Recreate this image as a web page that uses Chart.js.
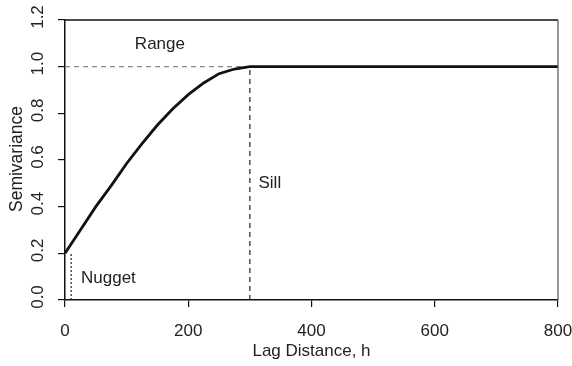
<!DOCTYPE html>
<html><head><meta charset="utf-8">
<script src="https://cdn.jsdelivr.net/npm/chart.js@4.4.0/dist/chart.umd.min.js"></script>
<style>html,body{margin:0;padding:0;background:#fff}#wrap{width:572px;height:366px}</style>
</head><body><div id="wrap"><canvas id="c" width="572" height="366"></canvas></div>
<script>
const lagDistance = [0,25,50,75,100,125,150,175,200,225,250,275,300,800];
const semivariance = [0.2,0.30,0.40,0.49,0.585,0.67,0.75,0.82,0.88,0.93,0.97,0.99,1.0,1.0];
const sillLineX = [0,300]; const sillLineY = [1.0,1.0];
const rangeLineX = [300,300]; const rangeLineY = [0,1.0];
const nuggetLineX = [10,10]; const nuggetLineY = [0,0.2];
const xTicks = [0,200,400,600,800];
const yTickLabels = ['0.0','0.2','0.4','0.6','0.8','1.0','1.2'];
const yTickValues = [0,0.2,0.4,0.6,0.8,1.0,1.2];
const annotationText = ['Range','Sill','Nugget'];
const annotationX = [154,314,26];
const annotationY = [1.095,0.50,0.095];
const annotationAlign = ['center','left','left'];

const pts = (xs, ys) => xs.map((x,i)=>({x, y: ys[i]}));
const FONT = 'Arial, "Liberation Sans", sans-serif';

const overlay = {
  id: 'overlay',
  afterDraw(chart){
    const {ctx, chartArea:a, scales:{x, y}} = chart;
    ctx.save();
    ctx.strokeStyle = '#111'; ctx.lineWidth = 1.5;
    ctx.beginPath();
    ctx.moveTo(a.left, a.top); ctx.lineTo(a.right, a.top);
    ctx.stroke();
    ctx.strokeStyle = '#555'; ctx.lineWidth = 1.2;
    ctx.beginPath(); ctx.moveTo(a.right, a.top); ctx.lineTo(a.right, a.bottom); ctx.stroke();
    // rotated y tick labels
    ctx.fillStyle = '#222'; ctx.font = '17px ' + FONT;
    ctx.textAlign = 'center'; ctx.textBaseline = 'middle';
    yTickValues.forEach((v,i)=>{
      const py = y.getPixelForValue(v) - 3;
      ctx.save(); ctx.translate(38, py); ctx.rotate(-Math.PI/2);
      ctx.fillText(yTickLabels[i], 0, 0); ctx.restore();
    });
    // y title
    ctx.save(); ctx.translate(17, 159); ctx.rotate(-Math.PI/2);
    ctx.font = '17.5px ' + FONT; ctx.fillText('Semivariance', 0, 0); ctx.restore();
    // annotations
    ctx.font = '17px ' + FONT; ctx.fillStyle = '#222';
    annotationText.forEach((t,i)=>{
      ctx.textAlign = annotationAlign[i];
      ctx.fillText(t, x.getPixelForValue(annotationX[i]), y.getPixelForValue(annotationY[i]));
    });
    ctx.restore();
  }
};

new Chart(document.getElementById('c'), {
  type: 'line',
  data: {
    datasets: [
      {data: pts(lagDistance, semivariance), borderColor:'#111', borderWidth:2.8, pointRadius:0, tension:0, fill:false},
      {data: pts(sillLineX, sillLineY), borderColor:'#888', borderWidth:1.2, borderDash:[5,4], pointRadius:0},
      {data: pts(rangeLineX, rangeLineY), borderColor:'#222', borderWidth:1.2, borderDash:[5,4], pointRadius:0},
      {data: pts(nuggetLineX, nuggetLineY), borderColor:'#222', borderWidth:1.2, borderDash:[2,2], pointRadius:0}
    ]
  },
  options: {
    responsive:false, animation:false, devicePixelRatio:1,
    layout:{padding:{top:20,right:14,left:0,bottom:0}},
    plugins:{legend:{display:false}, tooltip:{enabled:false}},
    scales:{
      x:{type:'linear', min:0, max:800,
        afterBuildTicks: s => { s.ticks = xTicks.map(v=>({value:v})); },
        afterFit: s => { s.height = 66; s.paddingLeft = 0; s.paddingRight = 0; },
        grid:{drawOnChartArea:false, drawTicks:true, tickLength:7, color:'#111', lineWidth:1.2},
        border:{display:true, color:'#111', width:1.5},
        ticks:{color:'#222', font:{family:FONT, size:17}, padding:14, maxRotation:0},
        title:{display:true, text:'Lag Distance, h', color:'#222', font:{family:FONT, size:17}, padding:{top:0,bottom:4}}
      },
      y:{type:'linear', min:0, max:1.2,
        afterBuildTicks: s => { s.ticks = yTickValues.map(v=>({value:v})); },
        afterFit: s => { s.width = 65; s.paddingTop = 0; s.paddingBottom = 0; },
        grid:{drawOnChartArea:false, drawTicks:true, tickLength:7, color:'#111', lineWidth:1.2},
        border:{display:true, color:'#111', width:1.5},
        ticks:{color:'rgba(0,0,0,0)', font:{family:FONT, size:15}},
        title:{display:false}
      }
    }
  },
  plugins:[overlay]
});
</script></body></html>
